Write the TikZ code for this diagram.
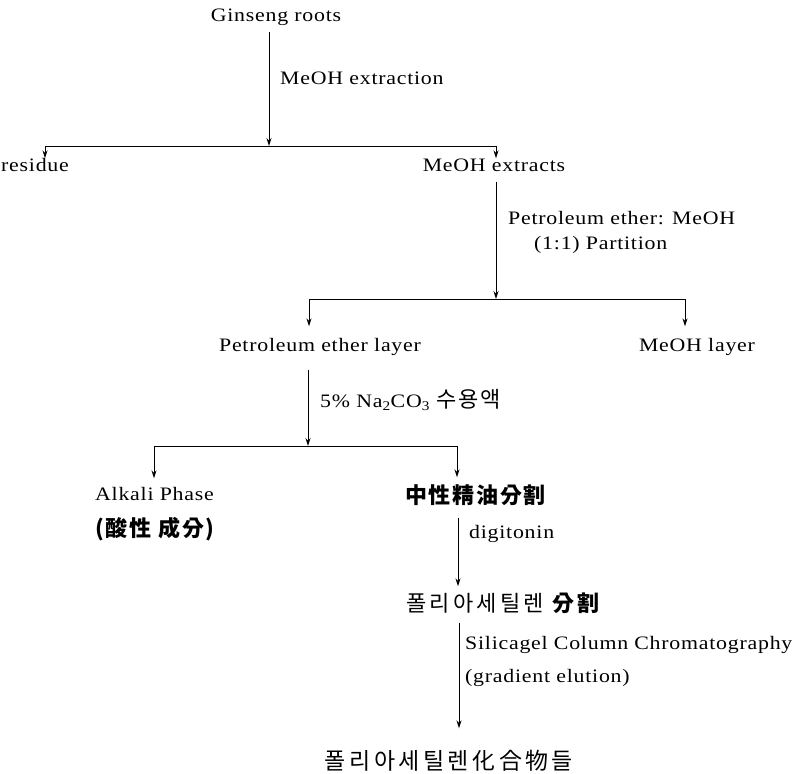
\documentclass[tikz,border=0pt]{standalone}
\usepackage{fontspec}
\setmainfont{Liberation Serif}[FakeStretch=1.15,LetterSpace=4]
\newfontfamily\krA{Noto Sans CJK KR}[LetterSpace=8]
\newfontfamily\krB{Noto Sans CJK KR}[LetterSpace=15]
\newcommand\cjkmid{\krA\fontsize{22}{24}\selectfont}
\newcommand\cjkwide{\krB\fontsize{22}{24}\selectfont}
\usetikzlibrary{arrows.meta}
\begin{document}
\begin{tikzpicture}[x=1pt,y=-1pt,
  item/.style={inner sep=0pt, font=\fontsize{19}{22}\selectfont, text height=13pt, text depth=4pt},
  citem/.style={inner sep=0pt, text height=19pt, text depth=4pt},
  lbl/.style={item, anchor=west},
  ln/.style={line width=0.9pt, draw=black},
  arr/.style={ln, -{Stealth[length=8pt,width=5pt]}}]
\useasboundingbox (0,0) rectangle (796,774);

% nodes
\node[item] (gin) at (276,17) {Ginseng roots};
\node[lbl] (lab1) at (280,80) {MeOH extraction};
\node[item, anchor=west] (res) at (1,167) {residue};
\node[item] (mex) at (494,167) {MeOH extracts};
\node[lbl] (lab2) at (508,220) {Petroleum ether: MeOH};
\node[lbl] (lab3) at (534,245) {(1:1) Partition};
\node[item] (pel) at (320,347) {Petroleum ether layer};
\node[item] (mel) at (697,347) {MeOH layer};
\node[lbl] (lab4) at (320,403) {5\% Na\textsubscript{2}CO\textsubscript{3} {\cjkmid 수용액}};
\node[item, anchor=west] (alk) at (95,496) {Alkali Phase};
\node[citem, anchor=west] (acid) at (95,529) {\cjkmid\bfseries (酸性\ 成分)};
\node[citem, anchor=west] (neu) at (405,496) {\cjkmid\bfseries 中性精油分割};
\node[lbl] (lab5) at (469,534) {digitonin};
\node[citem, anchor=west] (poly) at (406,604) {\cjkwide 폴리아세틸렌 {\bfseries 分割}};
\node[lbl] (lab6) at (465,645) {Silicagel Column Chromatography};
\node[lbl] (lab7) at (465,678) {(gradient elution)};
\node[citem] (fin) at (449,762) {\krB\fontsize{23}{26}\selectfont 폴리아세틸렌化合物들};

% junction coordinates
\coordinate (j1) at (269,146);
\coordinate (l1) at (45,146);
\coordinate (r1) at (496,146);
\coordinate (j2) at (496,299);
\coordinate (l2) at (309,299);
\coordinate (r2) at (685,299);
\coordinate (j3) at (308,446);
\coordinate (l3) at (154,446);
\coordinate (r3) at (457,446);
\coordinate (v4) at (458,0);
\coordinate (v5) at (459,0);

% connectors
\draw[arr, shorten <=6pt] (gin.south -| j1) -- (j1);
\draw[ln] (l1) -- (r1);
\draw[arr] (l1) -- (res.north -| l1);
\draw[arr] (r1) -- (mex.north -| r1);

\draw[arr, shorten <=6pt] (mex.south -| j2) -- (j2);
\draw[ln] (l2) -- (r2);
\draw[arr, shorten >=12pt] (l2) -- (pel.north -| l2);
\draw[arr, shorten >=12pt] (r2) -- (mel.north -| r2);

\draw[arr, shorten <=14pt] (pel.south -| j3) -- (j3);
\draw[ln] (l3) -- (r3);
\draw[arr, shorten >=9pt] (l3) -- (alk.north -| l3);
\draw[arr, shorten >=7pt] (r3) -- (neu.north -| r3);

\draw[arr, shorten <=10pt, shorten >=6pt] (neu.south -| v4) -- (poly.north -| v4);
\draw[arr, shorten <=7pt, shorten >=22pt] (poly.south -| v5) -- (fin.north -| v5);
\end{tikzpicture}
\end{document}
